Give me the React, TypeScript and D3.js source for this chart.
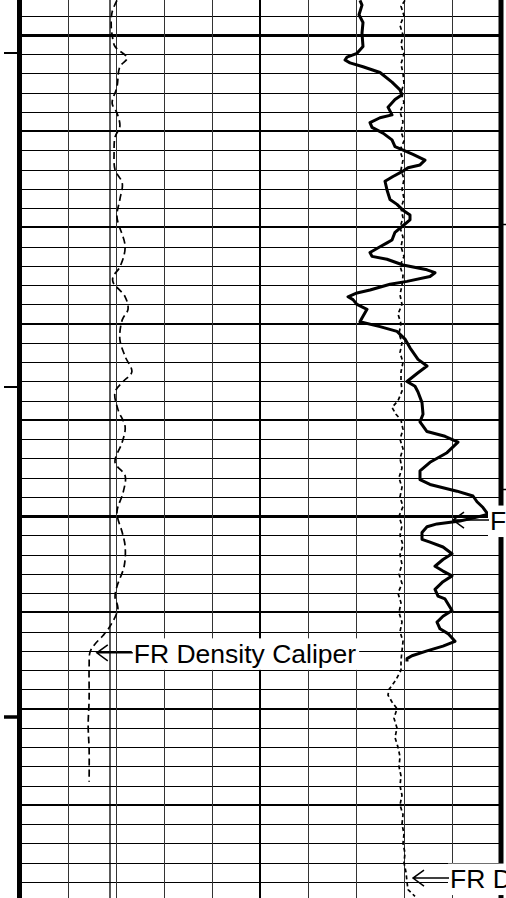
import React from "react";
import * as d3 from "d3";

const W = 506;
const H = 898;

// Depth grid (ft) and tick marks
const gridDepths = d3.range(998, 1090, 2);
const gridDivisions = d3.range(0, 11);
const leftTickDepths = [1001.9, 1036.6, 1070.9];
const rightTickDepths = [1019.6, 1047.2];

// Bit size (in)
const bitSize = 7.875;

// FR Density Caliper (in)
const caliperDepth = [996.4, 997.6, 999.0, 1000.0, 1001.2, 1002.4, 1003.3, 1005.4, 1007.1, 1008.1, 1009.5, 1010.6, 1012.2, 1014.0, 1015.4, 1017.1, 1018.9, 1022.0, 1024.1, 1025.1, 1025.7, 1027.2, 1028.5, 1029.6, 1031.6, 1033.4, 1035.0, 1036.0, 1037.1, 1038.9, 1040.7, 1042.3, 1044.4, 1045.8, 1047.5, 1049.6, 1051.7, 1053.1, 1055.2, 1057.3, 1058.4, 1059.6, 1061.4, 1062.4, 1063.3, 1064.1, 1065.6, 1069.0, 1071.8, 1074.2, 1077.6];
const caliperValue = [8.02, 7.92, 7.90, 7.92, 7.98, 8.23, 8.08, 8.02, 7.92, 8.02, 8.08, 7.98, 7.96, 7.98, 8.13, 8.08, 8.02, 8.19, 8.08, 7.94, 7.94, 8.19, 8.25, 8.13, 8.08, 8.19, 8.33, 8.15, 7.98, 8.04, 8.19, 8.13, 7.98, 8.19, 8.15, 8.02, 8.13, 8.19, 8.17, 8.02, 7.98, 8.04, 7.88, 7.73, 7.56, 7.46, 7.44, 7.44, 7.42, 7.44, 7.44];

// FR Bulk Density (thick curve)
const densityDepth = [996.4, 996.9, 997.9, 998.7, 999.8, 1001.2, 1001.9, 1002.3, 1002.6, 1002.9, 1003.3, 1003.9, 1004.9, 1005.7, 1006.2, 1006.7, 1007.5, 1008.3, 1008.6, 1009.1, 1009.6, 1010.2, 1010.9, 1011.6, 1011.9, 1012.4, 1013.0, 1013.5, 1013.8, 1014.2, 1014.7, 1015.2, 1016.1, 1017.1, 1017.6, 1018.2, 1018.7, 1019.2, 1019.9, 1020.5, 1021.3, 1021.6, 1022.0, 1022.6, 1023.0, 1023.3, 1023.9, 1024.4, 1024.7, 1025.1, 1025.6, 1025.9, 1026.5, 1026.8, 1027.2, 1027.5, 1028.0, 1028.5, 1029.4, 1029.8, 1030.3, 1030.8, 1031.6, 1032.5, 1033.7, 1034.4, 1035.1, 1036.0, 1036.5, 1037.1, 1038.2, 1039.4, 1040.2, 1041.2, 1041.7, 1042.3, 1043.4, 1044.4, 1045.3, 1046.2, 1046.7, 1047.4, 1047.9, 1048.5, 1049.1, 1049.8, 1050.1, 1050.5, 1050.8, 1051.1, 1051.7, 1052.4, 1052.7, 1053.2, 1053.9, 1054.5, 1055.2, 1055.7, 1056.2, 1056.8, 1057.6, 1058.3, 1058.6, 1059.8, 1060.4, 1061.0, 1061.7, 1062.2, 1063.0, 1063.5, 1064.0, 1064.5, 1064.8, 1065.1];
const densityValue = [170, 171, 169.5, 171.5, 171, 171.5, 168.5, 163.5, 162.5, 165, 171.5, 180, 186, 190, 191, 187.5, 184, 186, 180, 175, 176, 181.5, 186, 187.5, 191, 196.5, 202.5, 200, 194, 191, 186.5, 182.5, 183.5, 185, 188.5, 191.5, 195, 195, 191, 187.5, 186, 183.5, 180, 175, 176, 183.5, 191.5, 203.5, 207.5, 205, 193.5, 185, 175, 168.5, 164, 166.5, 168.5, 173.5, 171, 170, 180, 188.5, 192.5, 195, 199, 203.5, 199, 193.5, 197.5, 199, 201, 201.5, 200, 203.5, 212.5, 219, 213.5, 205, 200, 200, 205, 218.5, 226.5, 228.5, 231.5, 234, 228.5, 220, 208.5, 203.5, 201, 201, 205, 211.5, 216, 211.5, 207.5, 211.5, 216, 211.5, 207.5, 209, 212.5, 216, 211.5, 208.5, 210, 214, 217.5, 211.5, 203.5, 196, 193.5, 193.5];

// FR Density Correction (dashed curve)
const correctionDepth = [996.4, 997, 998, 999, 1000, 1001, 1002, 1003, 1004, 1005, 1006, 1007, 1008, 1009, 1010, 1011, 1012, 1013, 1014, 1015, 1016, 1017, 1018, 1019, 1020, 1021, 1022, 1023, 1024, 1025, 1026, 1027, 1028, 1029, 1030, 1031, 1032, 1033, 1034, 1035, 1036, 1037, 1038, 1038.7, 1039.4, 1040, 1041, 1042, 1043, 1044, 1045, 1046, 1047, 1048, 1049, 1050, 1051, 1052, 1053, 1054, 1055, 1056, 1057, 1058, 1059, 1060, 1061, 1062, 1063, 1064, 1065, 1066, 1067, 1068, 1068.6, 1069.3, 1070, 1071, 1072, 1073, 1074, 1075, 1076, 1077, 1078, 1079, 1080, 1081, 1082, 1083, 1084, 1085, 1086, 1087, 1088, 1088.8, 1089.5];
const correctionValue = [192.5, 190.5, 192, 190, 191.5, 190.5, 192, 190.5, 191.5, 192, 190.5, 192, 190, 191.5, 190.5, 192, 190, 191.5, 190.5, 192, 191, 192, 190.5, 191.5, 190, 191.5, 190.5, 192, 190, 191.5, 191, 190, 191, 189, 190.5, 189.5, 191, 190, 191.5, 190.5, 190.5, 191, 189, 186, 188, 190.5, 191.5, 190, 191.5, 190, 191, 189.5, 191, 190, 191.5, 189.5, 191, 190, 191.5, 190, 191, 189.5, 191, 189, 190.5, 189.5, 191, 190, 191.5, 191, 190.5, 190.5, 188, 184.5, 184, 186, 188.5, 187, 188.5, 187.5, 189, 190, 189.5, 190.5, 190, 191, 190, 191.5, 191, 192, 191.5, 192.5, 192, 193, 193.5, 194, 197.5];

// Curve labels: text, anchor depth, anchor value, scale used
const labelTexts = ["FR Density Caliper", "FR Bulk Density", "FR Density Correction"];
const labelDepths = [1064.2, 1050.4, 1087.6];
const labelValues = [7.6, 216.5, 196.5];
const labelScales = ["caliper", "curve", "curve"];

function zip(ds: number[], vs: number[]) {
  const n = Math.min(ds.length, vs.length);
  const out: { d: number; v: number }[] = [];
  for (let i = 0; i < n; i++) out.push({ d: ds[i], v: vs[i] });
  return out;
}

const FONT = '"Liberation Sans", Arial, sans-serif';
const FONT_SIZE = 26.5;

function measure(text: string) {
  try {
    const c = document.createElement("canvas").getContext("2d");
    if (c) {
      c.font = `${FONT_SIZE}px "Liberation Sans", Arial, sans-serif`;
      return c.measureText(text).width;
    }
  } catch (e) {}
  return text.length * 13;
}

export default function App() {
  const y = d3.scaleLinear().domain([1000, 1050]).range([35, 516.2]);
  const gx = d3.scaleLinear().domain([0, 10]).range([20, 500]);
  const xCal = d3.scaleLinear().domain([6, 16]).range([20, 500]);
  const xCurve = d3.scaleLinear().domain([0, 240]).range([20, 500]);

  const calLine = d3
    .line<{ d: number; v: number }>()
    .x((p) => xCal(p.v))
    .y((p) => y(p.d))
    .curve(d3.curveCatmullRom.alpha(0.5));
  const curveLine = d3
    .line<{ d: number; v: number }>()
    .x((p) => xCurve(p.v))
    .y((p) => y(p.d))
    .curve(d3.curveLinear);

  const yTop = y.invert(0);
  const yBot = y.invert(H);

  return (
    <svg
      width={W}
      height={H}
      viewBox={`0 0 ${W} ${H}`}
      style={{ position: "absolute", left: 0, top: 0, display: "block", background: "#fff" }}
    >
      <rect x={0} y={0} width={W} height={H} fill="#fff" />
      {/* horizontal grid */}
      {gridDepths.map((d) => {
        const w = d % 50 === 0 ? 3 : d % 10 === 0 ? 2 : 1;
        const yy = Math.round(y(d)) + (w % 2 === 1 ? 0.5 : 0);
        return <line key={"h" + d} x1={20} x2={500} y1={yy} y2={yy} stroke="#000" strokeWidth={w} />;
      })}
      {/* vertical grid */}
      {gridDivisions.map((k) => {
        const w = k === 5 ? 2 : 1;
        const xx = Math.round(gx(k)) + (w === 1 ? 0.5 : 0);
        return <line key={"v" + k} x1={xx} x2={xx} y1={0} y2={H} stroke={k === 5 ? "#000" : "#333"} strokeWidth={w} />;
      })}
      {/* bit size */}
      <line x1={xCal(bitSize)} x2={xCal(bitSize)} y1={y(yTop)} y2={y(yBot)} stroke="#000" strokeWidth={1.3} />
      {/* caliper */}
      <path d={calLine(zip(caliperDepth, caliperValue)) || ""} fill="none" stroke="#000" strokeWidth={1.7} strokeDasharray="7 4" />
      {/* density correction */}
      <path d={curveLine(zip(correctionDepth, correctionValue)) || ""} fill="none" stroke="#000" strokeWidth={1.7} strokeDasharray="4 3" />
      {/* bulk density */}
      <path d={curveLine(zip(densityDepth, densityValue)) || ""} fill="none" stroke="#000" strokeWidth={3} strokeLinejoin="round" />
      {/* borders */}
      <line x1={19.5} x2={19.5} y1={0} y2={H} stroke="#000" strokeWidth={5} />
      <line x1={501} x2={501} y1={0} y2={H} stroke="#000" strokeWidth={5} />
      {/* depth ticks */}
      {leftTickDepths.map((d, i) => {
        const yy = Math.round(y(d));
        return <line key={"lt" + i} x1={4} x2={18} y1={yy} y2={yy} stroke="#000" strokeWidth={i === 2 ? 3.5 : 2} />;
      })}
      {rightTickDepths.map((d, i) => {
        const yy = Math.round(y(d)) + 0.5;
        return <line key={"rt" + i} x1={502} x2={506} y1={yy} y2={yy} stroke="#000" strokeWidth={1.5} />;
      })}
      {/* labels */}
      {labelTexts.map((t, i) => {
        const sc = labelScales[i] === "caliper" ? xCal : xCurve;
        const tx = sc(labelValues[i]);
        const ty = y(labelDepths[i]);
        const shaftEnd = tx + 36;
        const tw = measure(t);
        return (
          <g key={"lab" + i}>
            <rect x={shaftEnd - 1} y={ty - 14.5} width={tw + 5} height={31.5} fill="#fff" />
            <path
              d={`M${tx},${ty} L${shaftEnd},${ty} M${tx + 11},${ty - 8} L${tx},${ty} L${tx + 11},${ty + 8}`}
              fill="none"
              stroke="#000"
              strokeWidth={1.5}
            />
            <text x={shaftEnd + 1} y={ty + 10} fontFamily={FONT} fontSize={FONT_SIZE} fill="#000">
              {t}
            </text>
          </g>
        );
      })}
    </svg>
  );
}
